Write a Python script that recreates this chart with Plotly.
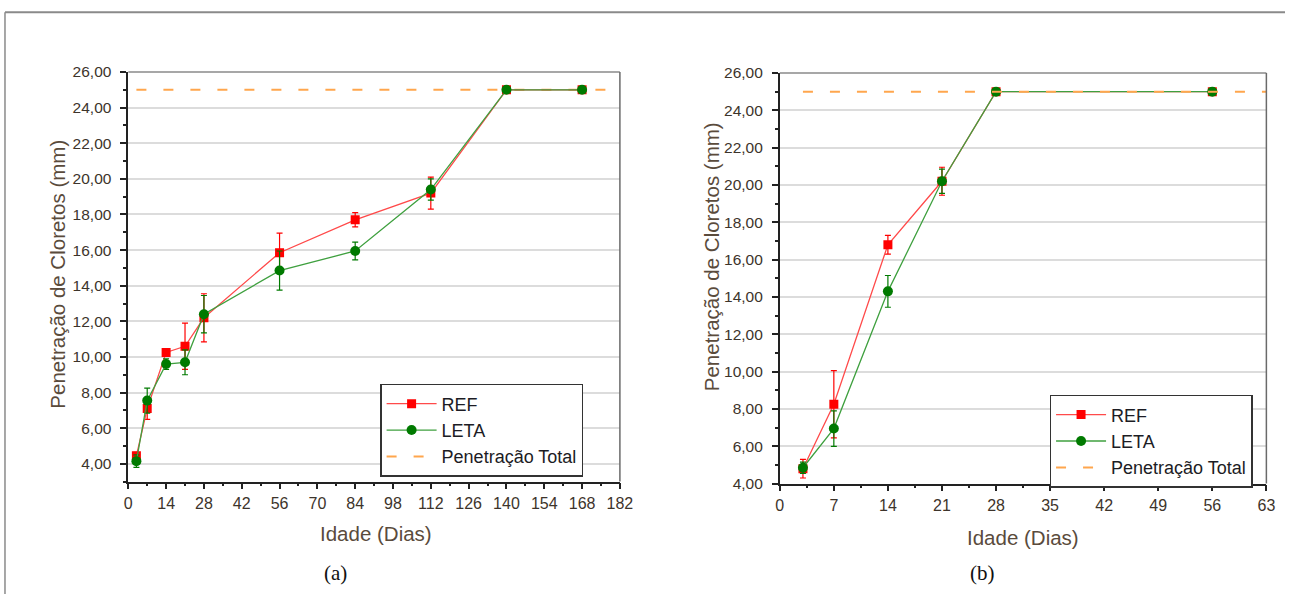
import plotly.graph_objects as go

# ---------------- data ----------------
days_a = [3, 7, 14, 21, 28, 56, 84, 112, 140, 168]
ref_a = [4.45, 7.10, 10.25, 10.60, 12.20, 15.85, 17.70, 19.20, 25.00, 25.00]
ref_a_err = [0.20, 0.60, 0.15, 1.30, 1.35, 1.10, 0.40, 0.90, 0.05, 0.05]
leta_a = [4.15, 7.55, 9.60, 9.70, 12.40, 14.85, 15.95, 19.40, 25.00, 25.00]
leta_a_err = [0.35, 0.70, 0.30, 0.70, 1.05, 1.10, 0.50, 0.60, 0.05, 0.05]

days_b = [3, 7, 14, 21, 28, 56]
ref_b = [4.80, 8.25, 16.80, 20.20, 25.00, 25.00]
ref_b_err = [0.50, 1.80, 0.50, 0.75, 0.05, 0.05]
leta_b = [4.85, 6.95, 14.30, 20.20, 25.00, 25.00]
leta_b_err = [0.30, 0.95, 0.85, 0.65, 0.05, 0.05]

total_x_a = [3, 182]
total_x_b = [3, 63]
total_value = 25.0

xticks_a = list(range(0, 183, 14))
xticks_b = list(range(0, 64, 7))
yticks = list(range(4, 27, 2))

names = ["REF", "LETA", "Penetração Total"]

# ---------------- layout helpers ----------------
W, H = 1298, 602
SX, AX = 0.9877, 3.6
SY, AY = 0.975, 6.8


def fx(px):
    return (px - AX) / SX / W


def fy(py):
    return 1 - (py - AY) / SY / H


RED_M = "#ff0000"
RED_L = "#ff4a4a"
GRN_M = "#007a00"
GRN_L = "#3fa03f"
ORANGE = "#ffa64d"
TXT = "#3d342b"
TITLE_C = "#5a4b3c"
FONT = "Liberation Sans, Arial, sans-serif"

fig = go.Figure()


def add_series(xs, ys, errs, name, xa, ya, legend, color_l, color_m, symbol, size, rank):
    fig.add_trace(go.Scatter(
        x=xs, y=ys, name=name, mode="lines+markers",
        xaxis=xa, yaxis=ya, legend=legend, legendrank=rank,
        line=dict(color=color_l, width=1.3),
        marker=dict(color=color_m, symbol=symbol, size=size, line=dict(width=0)),
        error_y=dict(type="data", array=errs, visible=True, color=color_m,
                     thickness=1.2, width=3),
    ))


def add_total(xs, name, xa, ya, legend):
    fig.add_trace(go.Scatter(
        x=xs, y=[total_value] * len(xs), name=name, mode="lines",
        xaxis=xa, yaxis=ya, legend=legend, legendrank=3,
        line=dict(color=ORANGE, width=2, dash="10px,17px"),
    ))


# left chart: dashed line below series
add_total(total_x_a, names[2], "x", "y", "legend")
add_series(days_a, ref_a, ref_a_err, names[0], "x", "y", "legend", RED_L, RED_M, "square", 9, 1)
add_series(days_a, leta_a, leta_a_err, names[1], "x", "y", "legend", GRN_L, GRN_M, "circle", 10, 2)

# right chart: dashed line above series
add_series(days_b, ref_b, ref_b_err, names[0], "x2", "y2", "legend2", RED_L, RED_M, "square", 9, 1)
add_series(days_b, leta_b, leta_b_err, names[1], "x2", "y2", "legend2", GRN_L, GRN_M, "circle", 10, 2)
add_total(total_x_b, names[2], "x2", "y2", "legend2")

dom_xa = [fx(128), fx(620)]
dom_ya = [fy(481), fy(70)]
dom_xb = [fx(780), fx(1267)]
dom_yb = [fy(483), fy(71)]

xcommon = dict(
    showgrid=False, zeroline=False, showline=True, linecolor="#222", linewidth=1.6,
    ticks="outside", ticklen=6, tickwidth=1.5, tickcolor="#222",
    tickfont=dict(family=FONT, size=16, color=TXT),
)
ycommon = dict(
    showgrid=True, gridcolor="#dcdcdc", gridwidth=1.5, zeroline=False,
    showline=True, linecolor="#222", linewidth=1.6,
    ticks="outside", ticklen=6, tickwidth=1.5, tickcolor="#222",
    tickfont=dict(family=FONT, size=15.5, color=TXT),
    ticklabelstandoff=6,
    tickvals=yticks, tickformat=".2f",
    minor=dict(ticks="outside", ticklen=3, tickcolor="#222", dtick=1, showgrid=False),
)

legend_common = dict(
    xanchor="left", yanchor="top",
    bgcolor="white", bordercolor="#333", borderwidth=1.5,
    font=dict(family=FONT, size=18, color="#1c1c24"),
    itemwidth=50, tracegroupgap=0,
)

fig.update_layout(
    autosize=True,
    margin=dict(l=0, r=0, t=0, b=0),
    paper_bgcolor="white", plot_bgcolor="white",
    separators=",.",
    font=dict(family=FONT, color=TXT),
    xaxis=dict(domain=dom_xa, anchor="y", range=[0, 182], tickvals=xticks_a,
               minor=dict(ticks="outside", ticklen=3, tickcolor="#222", tick0=0, dtick=7),
               **xcommon),
    yaxis=dict(domain=dom_ya, anchor="x", range=[3, 26], **ycommon),
    xaxis2=dict(domain=dom_xb, anchor="y2", range=[0, 63], tickvals=xticks_b,
                minor=dict(ticks="outside", ticklen=3, tickcolor="#222", tick0=0, dtick=3.5),
                **xcommon),
    yaxis2=dict(domain=dom_yb, anchor="x2", range=[4, 26], **ycommon),
    legend=dict(x=fx(380), y=fy(383), **legend_common),
    legend2=dict(x=fx(1050), y=fy(394), **legend_common),
    showlegend=True,
)

shapes = []
# top / right plot borders in gray
for xr, yr in (("x domain", "y domain"), ("x2 domain", "y2 domain")):
    shapes.append(dict(type="line", xref=xr, yref=yr, x0=0, x1=1, y0=1, y1=1,
                       line=dict(color="#8a8a8a", width=1.5)))
    shapes.append(dict(type="line", xref=xr, yref=yr, x0=1, x1=1, y0=0, y1=1,
                       line=dict(color="#6a6a6a", width=1.5)))
# outer frame of the figure
frame_x = max(fx(3), 1 / W)
shapes.append(dict(type="line", xref="paper", yref="paper", x0=frame_x, x1=1,
                   y0=fy(10), y1=fy(10), line=dict(color="#8a8a8a", width=2)))
shapes.append(dict(type="line", xref="paper", yref="paper", x0=frame_x, x1=frame_x,
                   y0=0, y1=fy(10), line=dict(color="#8a8a8a", width=1.5)))
fig.update_layout(shapes=shapes)

ann = []
ytitle = "Penetração de Cloretos (mm)"
xtitle = "Idade (Dias)"
ann.append(dict(text=ytitle, xref="paper", yref="paper", x=fx(57), y=fy(273),
                textangle=-90, showarrow=False, xanchor="center", yanchor="middle",
                font=dict(family=FONT, size=20.5, color=TITLE_C)))
ann.append(dict(text=ytitle, xref="paper", yref="paper", x=fx(712), y=fy(255),
                textangle=-90, showarrow=False, xanchor="center", yanchor="middle",
                font=dict(family=FONT, size=20.5, color=TITLE_C)))
ann.append(dict(text=xtitle, xref="paper", yref="paper", x=fx(376), y=fy(533),
                showarrow=False, xanchor="center", yanchor="middle",
                font=dict(family=FONT, size=20.5, color=TITLE_C)))
ann.append(dict(text=xtitle, xref="paper", yref="paper", x=fx(1023), y=fy(537),
                showarrow=False, xanchor="center", yanchor="middle",
                font=dict(family=FONT, size=20.5, color=TITLE_C)))
ann.append(dict(text="(a)", xref="paper", yref="paper", x=fx(335), y=fy(573),
                showarrow=False, xanchor="center", yanchor="middle",
                font=dict(family="Liberation Serif, Times New Roman, serif", size=21, color="#111")))
ann.append(dict(text="(b)", xref="paper", yref="paper", x=fx(983), y=fy(573),
                showarrow=False, xanchor="center", yanchor="middle",
                font=dict(family="Liberation Serif, Times New Roman, serif", size=21, color="#111")))
fig.update_layout(annotations=ann)

fig.write_html(
    "out.html",
    config={"displayModeBar": False, "responsive": True},
    default_width="100vw",
    default_height="100vh",
    post_script="document.body.style.margin='0';document.body.style.overflow='hidden';",
)
